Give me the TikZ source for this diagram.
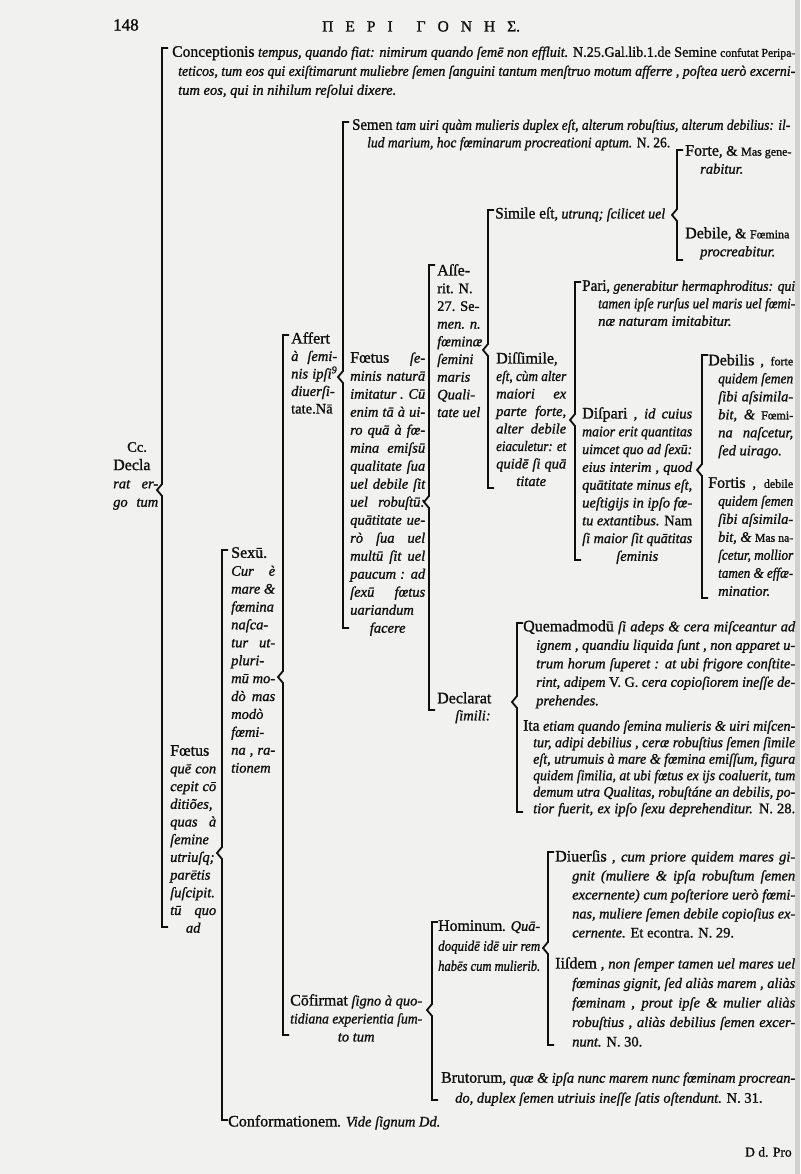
\documentclass[tikz,border=0pt]{standalone}
\usepackage{fontspec}
\setmainfont{Liberation Serif}[FakeBold=1.2, ItalicFeatures={FakeBold=1.2}]
\usepackage{graphicx}
\definecolor{paper}{RGB}{241,241,239}
\definecolor{ink}{RGB}{15,15,15}
\newsavebox\jlbox
% justified line of given width (pt); squeezed if too long
\newcommand\jl[2]{\sbox\jlbox{#2}\ifdim\wd\jlbox>#1pt\relax\resizebox{#1pt}{\height}{\usebox\jlbox}\else\makebox[#1pt][s]{#2}\fi}
\newcommand\cl[2]{\makebox[#1pt][c]{#2}}
\newcommand\rom[1]{{\upshape\fontsize{16}{18}\selectfont #1}}
\newcommand\up[1]{{\upshape #1}}
\newcommand\sm[1]{{\upshape\fontsize{12}{12}\selectfont #1}}
\tikzset{
  txt/.style={anchor=north west, inner sep=0pt, align=left, text=ink,
    font=\fontsize{14.5}{18}\selectfont\itshape},
  bs/.style={font=\fontsize{14.5}{#1}\selectfont\itshape},
  brace/.style={draw=ink, line width=1.8pt, line join=miter, line cap=butt},
}
% brace: name, x, top, notch, bottom
\newcommand\brc[5]{%
  \coordinate (#1-t) at (#2+6,#3);
  \coordinate (#1-m) at (#2-5,#4);
  \coordinate (#1-b) at (#2+6,#5);
  \draw[brace] (#1-t) -- (#2,#3) -- (#2,#4-6) -- (#1-m) -- (#2,#4+6) -- (#2,#5) -- (#1-b);}
\begin{document}
\begin{tikzpicture}[x=1pt,y=-1pt]
\fill[paper] (0,0) rectangle (800,1174);
\useasboundingbox (0,0) rectangle (800,1174);
\fill[black!18] (795,0) rectangle (800,1174);

% header
\node[txt] (pg) at (113,19) {\up{\fontsize{17}{18}\selectfont 148}};
\node[txt] (hdr) at (322,21) {\up{\fontsize{15.5}{18}\selectfont Π\hspace{12pt}Ε\hspace{12pt}Ρ\hspace{12pt}Ι\hspace{24pt}Γ\hspace{12pt}Ο\hspace{12pt}Ν\hspace{12pt}Η\hspace{12pt}Σ.}};

% level 0
\node[txt,bs=18.3] (cc) at (113,442) {\hspace*{14pt}\up{Cc.}\\ \rom{Decla}\\ \jl{45}{rat er-}\\ \jl{45}{go tum}};
\brc{A}{162}{48}{490}{927}

\node[txt,bs=19] (concep) at (172,46) {\jl{623}{\rom{Conceptionis} tempus, quando fiat: nimirum quando ſemē non effluit. \up{N.25.Gal.lib.1.de Semine} \sm{confutat Peripa-}}\\
\hspace*{6pt}\jl{617}{teticos, tum eos qui exiſtimarunt muliebre ſemen ſanguini tantum menſtruo motum afferre , poſtea uerò excerni-}\\
\hspace*{6pt}tum eos, qui in nihilum reſolui dixere.};

\node[txt,bs=17.7] (foetusA) at (170,745) {\rom{Fœtus}\\ \jl{46}{quē con}\\ \jl{46}{cepit cō}\\ \jl{46}{ditiões,}\\ \jl{46}{quas à}\\ ſemine\\ utriuſq;\\ parētis\\ \jl{46}{ſuſcipit.}\\ \jl{46}{tū quo}\\ \cl{46}{ad}};
\brc{F}{222}{550}{853}{1120}

\node[txt,bs=17.9] (sexu) at (231,547) {\rom{Sexū.}\\ \jl{44}{Cur è}\\ \jl{44}{mare \&}\\ \jl{44}{fœmina}\\ naſca-\\ \jl{44}{tur ut-}\\ pluri-\\ \jl{44}{mū mo-}\\ \jl{44}{dò mas}\\ modò\\ fœmi-\\ \jl{44}{na , ra-}\\ tionem};
\brc{S}{283}{335}{677}{1035}

\node[txt] (conform) at (228,1115) {\rom{Conformationem}. Vide ſignum Dd.};

\node[txt,bs=17.5] (affert) at (291,332) {\rom{Affert}\\ \jl{46}{à ſemi-}\\ \jl{46}{nis ipſi\textsuperscript{9}}\\ \jl{46}{diuerſi-}\\ \up{tate.Nā}};
\brc{C}{343}{122}{377}{628}

\node[txt,bs=18] (confirm) at (290,994) {\jl{132}{\rom{Cōfirmat} ſigno à quo-}\\ \jl{132}{tidiana experientia ſum-}\\ \cl{132}{to tum}};
\brc{H}{432}{922}{1010}{1100}

\node[txt,bs=17.5] (semen) at (352,119) {\jl{438}{\rom{Semen} tam uiri quàm mulieris duplex eſt, alterum robuſtius, alterum debilius: il-}\\
\hspace*{15pt}\jl{303}{lud marium, hoc fœminarum procreationi aptum. \up{N. 26.}}};

\node[txt,bs=18] (foetusB) at (350,352) {\jl{75}{\rom{Fœtus} ſe-}\\ \jl{75}{minis naturā}\\ \jl{75}{imitatur . Cū}\\ \jl{75}{enim tā à ui-}\\ \jl{75}{ro quā à fœ-}\\ \jl{75}{mina emiſsū}\\ \jl{75}{qualitate ſua}\\ \jl{75}{uel debile ſit}\\ \jl{75}{uel robuſtū:}\\ \jl{75}{quātitate ue-}\\ \jl{75}{rò ſua uel}\\ \jl{75}{multū ſit uel}\\ \jl{75}{paucum : ad}\\ \jl{75}{ſexū fœtus}\\ \jl{75}{uariandum}\\ \cl{75}{facere}};
\brc{D}{429}{265}{502}{710}

\node[txt,bs=17.7] (asserit) at (437,264) {\rom{Aſſe-}\\ \up{rit. N.}\\ \up{27. Se-}\\ men. n.\\ fœminæ\\ ſemini\\ maris\\ Quali-\\ tate uel};
\brc{E}{488}{210}{350}{488}

\node[txt] (simile) at (495,207) {\jl{170}{\rom{Simile eſt}, utrunq; ſcilicet uel}};
\brc{F1}{677}{150}{215}{260}
\node[txt,bs=18] (forte) at (685,145) {\rom{Forte}, \up{\&} \sm{Mas gene-}\\ \hspace*{15pt}rabitur.};
\node[txt,bs=18] (debile) at (685,227) {\rom{Debile}, \up{\&} \sm{Fœmina}\\ \hspace*{15pt}procreabitur.};

\node[txt,bs=17.5] (dissim) at (496,352) {\rom{Diſſimile},\\ \jl{70}{eſt, cùm alter}\\ \jl{70}{maiori ex}\\ \jl{70}{parte forte,}\\ \jl{70}{alter debile}\\ \jl{70}{eiaculetur: et}\\ \jl{70}{quidē ſi quā}\\ \cl{70}{titate}};
\brc{G}{575}{282}{420}{560}

\node[txt,bs=17.5] (pari) at (582,280) {\jl{213}{\rom{Pari}, generabitur hermaphroditus: qui}\\ \hspace*{16pt}\jl{197}{tamen ipſe rurſus uel maris uel fœmi-}\\ \hspace*{16pt}næ naturam imitabitur.};

\node[txt,bs=17.8] (dispari) at (582,407) {\jl{110}{\rom{Diſpari} , id cuius}\\ \jl{110}{maior erit quantitas}\\ \jl{110}{uimcet quo ad ſexū:}\\ \jl{110}{eius interim , quod}\\ \jl{110}{quātitate minus eſt,}\\ \jl{110}{ueſtigijs in ipſo fœ-}\\ \jl{110}{tu extantibus. \up{Nam}}\\ \jl{110}{ſi maior ſit quātitas}\\ \cl{110}{ſeminis}};
\brc{K}{702}{355}{470}{598}

\node[txt,bs=18] (debilis) at (708,354) {\jl{85}{\rom{Debilis} , \sm{forte}}\\ \hspace*{10pt}\jl{75}{quidem ſemen}\\ \hspace*{10pt}\jl{75}{ſibi aſsimila-}\\ \hspace*{10pt}\jl{75}{bit, \& \sm{Fœmi-}}\\ \hspace*{10pt}\jl{75}{na naſcetur,}\\ \hspace*{10pt}ſed uirago.};
\node[txt,bs=18] (fortis) at (708,477) {\jl{85}{\rom{Fortis} , \sm{debile}}\\ \hspace*{10pt}\jl{75}{quidem ſemen}\\ \hspace*{10pt}\jl{75}{ſibi aſsimila-}\\ \hspace*{10pt}\jl{75}{bit, \& \sm{Mas na-}}\\ \hspace*{10pt}\jl{75}{ſcetur, mollior}\\ \hspace*{10pt}\jl{75}{tamen \& effæ-}\\ \hspace*{10pt}minatior.};

\node[txt,bs=17] (declarat) at (437,692) {\rom{Declarat}\\ \hspace*{18pt}ſimili:};
\brc{J}{517}{623}{702}{812}

\node[txt,bs=18.5] (quem) at (523,620) {\jl{272}{\rom{Quemadmodū} ſi adeps \& cera miſceantur ad}\\
\hspace*{13pt}\jl{259}{ignem , quandiu liquida ſunt , non apparet u-}\\
\hspace*{13pt}\jl{259}{trum horum ſuperet : at ubi frigore conſtite-}\\
\hspace*{13pt}\jl{259}{rint, adipem \up{V. G.} cera copioſiorem ineſſe de-}\\
\hspace*{13pt}prehendes.};
\node[txt,bs=16.5] (ita) at (523,720) {\jl{272}{\rom{Ita} etiam quando ſemina mulieris \& uiri miſcen-}\\
\hspace*{10pt}\jl{262}{tur, adipi debilius , ceræ robuſtius ſemen ſimile}\\
\hspace*{10pt}\jl{262}{eſt, utrumuis à mare \& fœmina emiſſum, figura}\\
\hspace*{10pt}\jl{262}{quidem ſimilia, at ubi fœtus ex ijs coaluerit, tum}\\
\hspace*{10pt}\jl{262}{demum utra Qualitas, robuſtáne an debilis, po-}\\
\hspace*{10pt}\jl{262}{tior fuerit, ex ipſo ſexu deprehenditur. \up{N. 28.}}};

\node[txt,bs=20] (hominum) at (438,920) {\jl{102}{\rom{Hominum}. Quā-}\\ \jl{102}{doquidē idē uir rem}\\ \jl{102}{habēs cum mulierib.}};
\brc{I}{548}{852}{948}{1045}

\node[txt,bs=19] (diuersis) at (555,850) {\jl{240}{\rom{Diuerſis} , cum priore quidem mares gi-}\\
\hspace*{17pt}\jl{223}{gnit (muliere \& ipſa robuſtum ſemen}\\
\hspace*{17pt}\jl{223}{excernente) cum poſteriore uerò fœmi-}\\
\hspace*{17pt}\jl{223}{nas, muliere ſemen debile copioſius ex-}\\
\hspace*{17pt}cernente. \up{Et econtra. N. 29.}};
\node[txt,bs=19.5] (iisdem) at (555,957) {\jl{240}{\rom{Iiſdem} , non ſemper tamen uel mares uel}\\
\hspace*{17pt}\jl{223}{fœminas gignit, ſed aliàs marem , aliàs}\\
\hspace*{17pt}\jl{223}{fœminam , prout ipſe \& mulier aliàs}\\
\hspace*{17pt}\jl{223}{robuſtius , aliàs debilius ſemen excer-}\\
\hspace*{17pt}nunt. \up{N. 30.}};

\node[txt,bs=20] (brutorum) at (441,1072) {\jl{354}{\rom{Brutorum}, quæ \& ipſa nunc marem nunc fœminam procrean-}\\
\hspace*{14pt}do, duplex ſemen utriuis ineſſe ſatis oſtendunt. \up{N. 31.}};

\node[txt] (ddpro) at (745,1147) {\up{\fontsize{13.5}{16}\selectfont D d. Pro}};
\end{tikzpicture}
\end{document}
